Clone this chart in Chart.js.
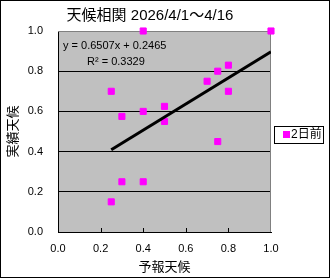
<!DOCTYPE html>
<html>
<head>
<meta charset="utf-8">
<script src="https://cdn.jsdelivr.net/npm/chart.js@4"></script>
<style>
  html, body { margin: 0; padding: 0; background: #fff; }
  #wrap { width: 330px; height: 278px; }
</style>
</head>
<body>
<div id="wrap"><canvas id="myChart" width="330" height="278"></canvas></div>
<script>
// data
const forecast = [0.4, 1.0, 0.8, 0.75, 0.7, 0.25, 0.8, 0.5, 0.4, 0.3, 0.5, 0.75, 0.3, 0.4, 0.25];
const actual = [1.0, 1.0, 0.83, 0.8, 0.75, 0.7, 0.7, 0.625, 0.6, 0.575, 0.55, 0.45, 0.25, 0.25, 0.15];
const seriesName = '2日前';
const slope = 0.6507;
const intercept = 0.2465;
const rSquared = 0.3329;
const trendRange = [0.25, 1.0];
const tickValues = [0, 0.2, 0.4, 0.6, 0.8, 1.0];

const FONT = "'Liberation Sans', 'Noto Sans CJK JP', sans-serif";

const points = forecast.map((x, i) => ({ x: x, y: actual[i] }));
const trend = trendRange.map(x => ({ x: x, y: slope * x + intercept }));

const frame = {
    id: 'frame',
    beforeDraw(chart) {
        const c = chart.ctx;
        const a = chart.chartArea;
        c.save();
        c.fillStyle = '#fff';
        c.fillRect(0, 0, chart.width, chart.height);
        c.fillStyle = '#c0c0c0';
        c.fillRect(a.left, a.top, a.right - a.left, a.bottom - a.top);
        c.restore();
    },
    beforeDatasetsDraw(chart) {
        const c = chart.ctx;
        const a = chart.chartArea;
        const xs = chart.scales.x;
        c.save();
        // top and right edge of plot area
        c.strokeStyle = '#808080';
        c.lineWidth = 1;
        c.beginPath();
        c.moveTo(a.left, a.top + 0.5);
        c.lineTo(a.right - 0.5, a.top + 0.5);
        c.lineTo(a.right - 0.5, a.bottom);
        c.stroke();
        // tick marks pointing into the plot
        c.strokeStyle = '#000';
        c.beginPath();
        tickValues.slice(1, -1).forEach(v => {
            const px = Math.round(xs.getPixelForValue(v)) + 0.5;
            c.moveTo(px, a.bottom);
            c.lineTo(px, a.bottom - 4);
        });
        c.stroke();
        c.restore();
    },
    afterDraw(chart) {
        const c = chart.ctx;
        c.save();
        // outer border
        c.strokeStyle = '#000';
        c.lineWidth = 1;
        c.strokeRect(0.5, 0.5, chart.width - 1, chart.height - 1);

        // title
        c.fillStyle = '#000';
        c.textBaseline = 'middle';
        c.textAlign = 'center';
        c.font = '15px ' + FONT;
        c.fillText('天候相関 2026/4/1～4/16', 150, 16);

        // trendline label
        c.textAlign = 'left';
        c.font = '11px ' + FONT;
        c.fillText('y = ' + slope.toFixed(4) + 'x + ' + intercept.toFixed(4), 63, 46);
        c.fillText('R² = ' + rSquared.toFixed(4), 87, 62);

        // legend
        c.strokeRect(274.5, 126.5, 49, 17);
        c.fillStyle = chart.data.datasets[0].backgroundColor;
        c.fillRect(283, 131, 7, 7);
        c.fillStyle = '#000';
        c.font = '12px ' + FONT;
        c.fillText(seriesName, 291, 135);
        c.restore();
    }
};

const ctx = document.getElementById('myChart');

new Chart(ctx, {
    type: 'scatter',
    data: {
        datasets: [{
            label: seriesName,
            data: points,
            backgroundColor: '#ff00ff',
            borderColor: '#ff00ff',
            borderWidth: 1,
            pointStyle: 'rect',
            pointRadius: 4.3,
            clip: false,
            order: 2
        }, {
            type: 'line',
            label: 'trend',
            data: trend,
            borderColor: '#000',
            borderWidth: 3,
            pointRadius: 0,
            fill: false,
            order: 1
        }]
    },
    options: {
        responsive: false,
        animation: false,
        events: [],
        layout: {
            padding: { left: 1, top: 31, right: 59, bottom: 1 }
        },
        scales: {
            x: {
                type: 'linear',
                min: 0,
                max: 1,
                afterFit: s => { s.height = 45; },
                afterBuildTicks: s => { s.ticks = tickValues.map(v => ({ value: v })); },
                ticks: {
                    color: '#000',
                    padding: 10,
                    font: { family: FONT, size: 11 },
                    callback: v => Number(v).toFixed(1)
                },
                grid: { drawOnChartArea: false, drawTicks: false },
                border: { color: '#000', width: 1 },
                title: {
                    display: true,
                    text: '予報天候',
                    color: '#000',
                    font: { family: FONT, size: 13 },
                    padding: { top: 0, bottom: 2 }
                }
            },
            y: {
                min: 0,
                max: 1,
                afterFit: s => { s.width = 57; },
                afterBuildTicks: s => { s.ticks = tickValues.map(v => ({ value: v })); },
                ticks: {
                    color: '#000',
                    padding: 15,
                    font: { family: FONT, size: 11 },
                    callback: v => Number(v).toFixed(1)
                },
                grid: {
                    drawTicks: false,
                    color: c => (c.tick && c.tick.value > 0 && c.tick.value < 1) ? '#000' : 'rgba(0,0,0,0)'
                },
                border: { color: '#000', width: 1 },
                title: {
                    display: true,
                    text: '実績天候',
                    color: '#000',
                    font: { family: FONT, size: 13 },
                    padding: { top: 5, bottom: 0 }
                }
            }
        },
        plugins: {
            legend: { display: false },
            tooltip: { enabled: false }
        }
    },
    plugins: [frame]
});
</script>
</body>
</html>
